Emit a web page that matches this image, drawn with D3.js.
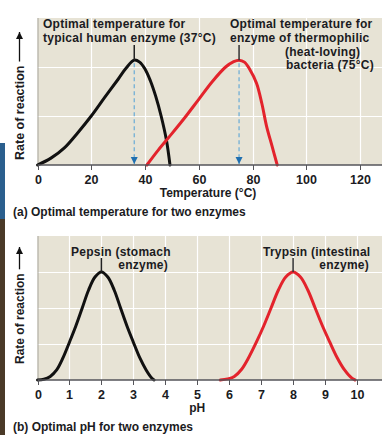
<!DOCTYPE html>
<html>
<head>
<meta charset="utf-8">
<script src="https://cdn.jsdelivr.net/npm/d3@7"></script>
<style>
  body { margin: 0; background: #fff; }
  svg { display: block; font-family: 'Liberation Sans', Arial, sans-serif; font-weight: bold; }
</style>
</head>
<body>
<div id="chart"></div>
<script>
// temperature panel
const tempTicks = [0, 20, 40, 60, 80, 100, 120]
const humanEnzyme = [[0, 0], [5, 0.14], [10, 0.35], [15, 0.66], [20, 1.0], [25, 1.38], [30, 1.75], [33, 1.98], [36, 2.14], [38, 2.1], [40, 1.96], [42, 1.72], [44, 1.4], [46, 1.0], [48, 0.5], [49.3, 0]]
const thermoEnzyme = [[40.7, 0], [45, 0.31], [50, 0.64], [55, 0.98], [60, 1.34], [65, 1.7], [70, 2.0], [73, 2.11], [75, 2.14], [77, 2.1], [79, 1.95], [81.5, 1.67], [83.5, 1.25], [85.2, 0.8], [87.3, 0.38], [89.2, 0]]
const tempOptima = [36, 75]

// pH panel
const phTicks = [0, 1, 2, 3, 4, 5, 6, 7, 8, 9, 10]
const pepsin = [[0, 0], [0.2, 0.02], [0.4, 0.1], [0.6, 0.28], [0.8, 0.62], [1.0, 1.05], [1.2, 1.5], [1.4, 2.0], [1.6, 2.5], [1.8, 2.86], [2, 3], [2.2, 2.86], [2.4, 2.5], [2.6, 2.0], [2.8, 1.5], [3.0, 1.05], [3.2, 0.62], [3.4, 0.28], [3.58, 0.05], [3.65, 0]]
const trypsin = [[5.72, 0], [5.95, 0.03], [6.16, 0.1], [6.39, 0.3], [6.62, 0.64], [6.85, 1.05], [7.08, 1.5], [7.31, 2.0], [7.54, 2.5], [7.77, 2.86], [8, 3], [8.23, 2.86], [8.46, 2.5], [8.69, 2.0], [8.92, 1.5], [9.15, 1.05], [9.38, 0.62], [9.61, 0.28], [9.84, 0.05], [9.94, 0]]

const W = 390, H = 447
const BG = '#e7e3d5'
const TEXT = '#1b1b22'

let svg = d3.select('#chart').append('svg')
  .attr('width', W)
  .attr('height', H)

// cropped photo edge on the left
svg.append('rect').attr('x', 0).attr('y', 143).attr('width', 5).attr('height', 76).attr('fill', '#2b5f8e')
svg.append('rect').attr('x', 0).attr('y', 219).attr('width', 5).attr('height', 216).attr('fill', '#4a3a28')

let defs = svg.append('defs')
defs.append('marker')
    .attr('id', 'blue-head')
    .attr('viewBox', '0 0 10 10')
    .attr('refX', 10).attr('refY', 5)
    .attr('markerWidth', 7).attr('markerHeight', 9)
    .attr('markerUnits', 'userSpaceOnUse')
    .attr('orient', 'auto')
  .append('path')
    .attr('d', 'M0,0L10,5L0,10Z')
    .attr('fill', '#1f6fb0')
defs.append('marker')
    .attr('id', 'black-head')
    .attr('viewBox', '0 0 10 10')
    .attr('refX', 10).attr('refY', 5)
    .attr('markerWidth', 10).attr('markerHeight', 7)
    .attr('markerUnits', 'userSpaceOnUse')
    .attr('orient', 'auto')
  .append('path')
    .attr('d', 'M0,0L10,5L0,10Z')
    .attr('fill', '#111')

function panel(opts) {
  let { x, y, ticks, right } = opts
  let top = y.range()[1], bottom = y.range()[0]
  let left = x.range()[0]
  let g = svg.append('g')

  g.append('rect')
    .attr('x', left).attr('y', top)
    .attr('width', right - left).attr('height', bottom - top)
    .attr('fill', BG)

  // grid
  g.selectAll('.hgrid')
    .data(opts.yGrid)
    .enter().append('line')
      .attr('x1', left).attr('x2', right)
      .attr('y1', (d) => y(d) + 0.5).attr('y2', (d) => y(d) + 0.5)
      .attr('stroke', '#fff').attr('stroke-width', 1.2)
  g.selectAll('.vgrid')
    .data(ticks.slice(1))
    .enter().append('line')
      .attr('x1', (d) => Math.round(x(d)) + 0.5).attr('x2', (d) => Math.round(x(d)) + 0.5)
      .attr('y1', top).attr('y2', bottom)
      .attr('stroke', '#fff').attr('stroke-width', 1.2)

  // left edge
  g.append('line')
    .attr('x1', left + 0.5).attr('x2', left + 0.5)
    .attr('y1', top).attr('y2', bottom)
    .attr('stroke', '#a8a69e')

  let line = d3.line()
    .x((d) => x(d[0]))
    .y((d) => y(d[1]))
    .curve(d3.curveCatmullRom.alpha(0.5))

  opts.series.forEach((s) => {
    g.append('path')
      .datum(s.data)
      .attr('d', line)
      .attr('fill', 'none')
      .attr('stroke', s.color)
      .attr('stroke-width', 3)
      .attr('stroke-linecap', 'round')
  })

  // x axis
  let axis = g.append('g')
    .attr('transform', 'translate(0,' + bottom + ')')
  axis.append('line')
    .attr('x1', left).attr('x2', right)
    .attr('stroke', '#55555a').attr('stroke-width', 1.5)
  let tick = axis.selectAll('.tick')
    .data(ticks)
    .enter().append('g')
      .attr('transform', (d) => 'translate(' + (Math.round(x(d)) + 0.5) + ')')
  tick.append('line')
    .attr('y1', 0).attr('y2', 5)
    .attr('stroke', '#55555a')
  tick.append('text')
    .attr('y', 19)
    .attr('text-anchor', 'middle')
    .attr('font-size', 12.5)
    .attr('fill', TEXT)
    .text((d) => d)

  g.append('text')
    .attr('x', opts.xTitleX)
    .attr('y', bottom + 32)
    .attr('text-anchor', 'middle')
    .attr('font-size', 12)
    .attr('fill', TEXT)
    .text(opts.xTitle)

  g.append('text')
    .attr('x', 13)
    .attr('y', bottom + 51)
    .attr('font-size', 12)
    .attr('fill', TEXT)
    .text(opts.caption)

  // y title with arrow
  let yt = g.append('text')
    .attr('transform', 'translate(24,' + opts.yTitleBottom + ') rotate(-90)')
    .attr('font-size', opts.yTitleSize)
    .attr('fill', TEXT)
    .text('Rate of reaction')
  let len = yt.node().getComputedTextLength()
  g.append('line')
    .attr('x1', 19.5).attr('x2', 19.5)
    .attr('y1', opts.yTitleBottom - len - 4)
    .attr('y2', opts.yArrowTip)
    .attr('stroke', '#111').attr('stroke-width', 1.3)
    .attr('marker-end', 'url(#black-head)')

  return g
}

function label(g, lines, size) {
  lines.forEach((l) => {
    g.append('text')
      .attr('x', l[0]).attr('y', l[1])
      .attr('text-anchor', l[3] || 'start')
      .attr('font-size', size)
      .attr('letter-spacing', 0.25)
      .attr('fill', TEXT)
      .text(l[2])
  })
}

// (a) temperature
let xA = d3.scaleLinear().domain([0, 120]).range([37.5, 360])
let yA = d3.scaleLinear().domain([0, 3]).range([165, 18])

let ga = panel({
  x: xA, y: yA, ticks: tempTicks, right: 382, yGrid: [1, 2],
  series: [{ data: humanEnzyme, color: '#111' }, { data: thermoEnzyme, color: '#e3232c' }],
  xTitle: 'Temperature (°C)', xTitleX: 208,
  caption: '(a) Optimal temperature for two enzymes',
  yTitleBottom: 160, yTitleSize: 12.5, yArrowTip: 32
})

tempOptima.forEach((t) => {
  ga.append('line')
    .attr('x1', xA(t)).attr('x2', xA(t))
    .attr('y1', yA(2.14) + 3).attr('y2', 164)
    .attr('stroke', '#72afd6').attr('stroke-width', 1.3)
    .attr('stroke-dasharray', '4,3')
    .attr('marker-end', 'url(#blue-head)')
})
ga.append('line')
  .attr('x1', xA(tempOptima[0])).attr('x2', xA(tempOptima[0]))
  .attr('y1', 45).attr('y2', yA(2.14))
  .attr('stroke', '#222').attr('stroke-width', 1.5)
ga.append('line')
  .attr('x1', xA(tempOptima[1])).attr('x2', xA(tempOptima[1]))
  .attr('y1', 45).attr('y2', yA(2.14))
  .attr('stroke', '#333').attr('stroke-width', 1.5)

label(ga, [
  [43, 28, 'Optimal temperature for'],
  [43, 42, 'typical human enzyme (37°C)'],
  [230, 28, 'Optimal temperature for'],
  [230, 42, 'enzyme of thermophilic'],
  [285, 56, '(heat-loving)'],
  [286, 69, 'bacteria (75°C)']
], 12)

// (b) pH
let xB = d3.scaleLinear().domain([0, 10]).range([37.5, 357])
let yB = d3.scaleLinear().domain([0, 4]).range([380, 236])

let gb = panel({
  x: xB, y: yB, ticks: phTicks, right: 382, yGrid: [1, 2, 3],
  series: [{ data: pepsin, color: '#111' }, { data: trypsin, color: '#e3232c' }],
  xTitle: 'pH', xTitleX: xB(5),
  caption: '(b) Optimal pH for two enzymes',
  yTitleBottom: 364, yTitleSize: 12, yArrowTip: 247
})

gb.append('line')
  .attr('x1', xB(2)).attr('x2', xB(2))
  .attr('y1', 258).attr('y2', yB(3))
  .attr('stroke', '#222').attr('stroke-width', 1.5)
gb.append('line')
  .attr('x1', xB(8)).attr('x2', xB(8))
  .attr('y1', 258).attr('y2', yB(3))
  .attr('stroke', '#333').attr('stroke-width', 1.5)

label(gb, [
  [71, 256, 'Pepsin (stomach'],
  [168, 269, 'enzyme)', 'end'],
  [263, 256, 'Trypsin (intestinal'],
  [369, 269, 'enzyme)', 'end']
], 12)
</script>
</body>
</html>
